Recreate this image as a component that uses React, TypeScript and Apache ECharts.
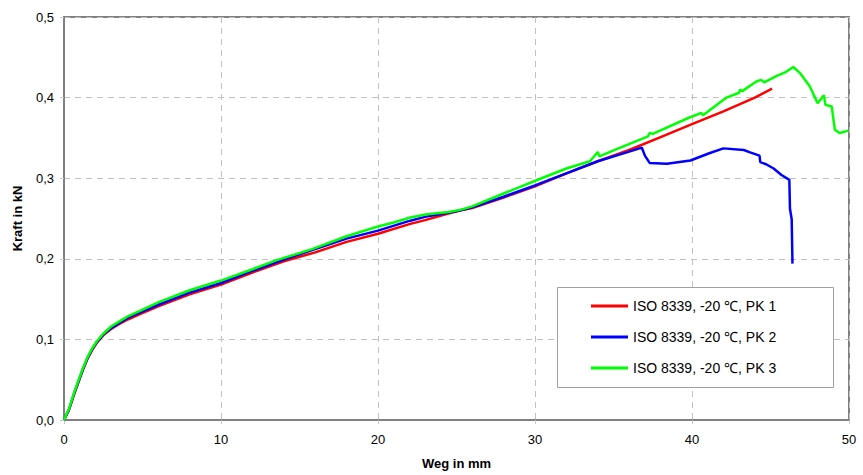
import React, { useEffect, useRef } from "react";
import * as echarts from "echarts";

const seriesNames = ["ISO 8339, -20 ℃, PK 1", "ISO 8339, -20 ℃, PK 2", "ISO 8339, -20 ℃, PK 3"];
const seriesColors = ["#ff0000", "#0000ff", "#00ff00"];

const pk1: [number, number][] = [
  [0, 0], [0.3, 0.012], [0.7, 0.035], [1.2, 0.062], [1.5, 0.076], [1.8, 0.087], [2.1, 0.096],
  [2.5, 0.105], [3.0, 0.113], [3.5, 0.119], [4.1, 0.125], [4.8, 0.131], [6, 0.141], [8, 0.156],
  [10, 0.168], [12, 0.183], [14, 0.197], [16, 0.208], [18, 0.221], [20, 0.231], [22, 0.243],
  [23, 0.248], [25, 0.259], [26, 0.263], [28, 0.276], [30, 0.29], [32, 0.306], [34, 0.321],
  [36, 0.335], [38, 0.351], [40, 0.367], [42, 0.383], [44, 0.4], [45.1, 0.411],
];

const pk2: [number, number][] = [
  [0, 0], [0.3, 0.012], [0.7, 0.036], [1.2, 0.063], [1.5, 0.077], [1.8, 0.088], [2.1, 0.097],
  [2.5, 0.106], [3.0, 0.114], [3.5, 0.12], [4.1, 0.127], [4.8, 0.133], [6, 0.143], [8, 0.158],
  [10, 0.17], [12, 0.185], [14, 0.199], [16, 0.212], [18, 0.225], [20, 0.235], [22, 0.247],
  [23, 0.252], [25, 0.259], [26, 0.264], [28, 0.277], [30, 0.291], [32, 0.306], [34, 0.321],
  [36, 0.333], [36.8, 0.338], [37.0, 0.328], [37.3, 0.319], [38.4, 0.318], [39.9, 0.322],
  [41.1, 0.331], [42.0, 0.337], [43.3, 0.335], [43.7, 0.332], [44.3, 0.328], [44.35, 0.32],
  [44.75, 0.317], [45.2, 0.312], [45.7, 0.304], [46.2, 0.298], [46.24, 0.262], [46.35, 0.249],
  [46.4, 0.194],
];

const pk3: [number, number][] = [
  [0, 0], [0.3, 0.013], [0.7, 0.037], [1.2, 0.064], [1.5, 0.078], [1.8, 0.089], [2.1, 0.098],
  [2.5, 0.107], [3.0, 0.116], [3.5, 0.122], [4.1, 0.129], [4.8, 0.135], [6, 0.146], [8, 0.161],
  [10, 0.173], [12, 0.187], [13.5, 0.198], [15.8, 0.212], [18, 0.228], [20, 0.24], [21, 0.245],
  [22, 0.251], [23, 0.255], [24.5, 0.258], [25.3, 0.261], [26, 0.265], [28, 0.281], [30.3, 0.299],
  [32, 0.312], [33.5, 0.321], [34.0, 0.3325], [34.1, 0.327], [35.2, 0.336], [37.2, 0.352],
  [37.3, 0.356], [37.5, 0.355], [39.8, 0.375], [40.6, 0.381], [40.7, 0.378], [42.2, 0.4],
  [43.0, 0.406], [43.06, 0.41], [43.2, 0.408], [44.1, 0.42], [44.4, 0.422], [44.6, 0.419],
  [45.4, 0.427], [46.0, 0.432], [46.45, 0.438], [46.9, 0.43], [47.5, 0.414], [48.0, 0.393],
  [48.4, 0.403], [48.5, 0.391], [48.9, 0.389], [49.1, 0.36], [49.4, 0.356], [49.96, 0.359],
];

const seriesData = [pk1, pk2, pk3];

const xTicks = { min: 0, max: 50, interval: 10 };
const yTicks = { min: 0, max: 0.5, interval: 0.1 };

export default function App() {
  const ref = useRef<HTMLDivElement>(null);
  useEffect(() => {
    if (!ref.current) return;
    const chart = echarts.init(ref.current, undefined, { renderer: "svg" });
    chart.setOption({
      animation: false,
      backgroundColor: "#ffffff",
      textStyle: { fontFamily: "Liberation Sans, Arial, sans-serif" },
      grid: {
        left: 64, top: 17, right: 14, bottom: 53,
        show: true, borderColor: "#808080", borderWidth: 2, backgroundColor: "transparent",
      },
      xAxis: {
        type: "value", ...xTicks,
        name: "Weg in mm", nameLocation: "middle", nameGap: 37,
        nameTextStyle: { fontWeight: "bold", fontSize: 13, color: "#000" },
        axisLine: { show: true, lineStyle: { color: "#808080", width: 2 } },
        axisTick: { show: true, length: 4, lineStyle: { color: "#c8c8c8" } },
        axisLabel: { color: "#000", fontSize: 13, margin: 13 },
        splitLine: { show: true, lineStyle: { color: "#c0c0c0", type: [6, 5], width: 1 } },
      },
      yAxis: {
        type: "value", ...yTicks,
        name: "Kraft in kN", nameLocation: "middle", nameGap: 40,
        nameTextStyle: { fontWeight: "bold", fontSize: 13, color: "#000" },
        axisLine: { show: true, lineStyle: { color: "#808080", width: 2 } },
        axisTick: { show: true, length: 4, lineStyle: { color: "#c8c8c8" } },
        axisLabel: {
          color: "#000", fontSize: 13, margin: 10,
          formatter: (v: number) => v.toFixed(1).replace(".", ","),
        },
        splitLine: { show: true, lineStyle: { color: "#c0c0c0", type: [6, 5], width: 1 } },
      },
      legend: {
        orient: "vertical", left: 586, top: 294, z: 20,
        icon: "rect", itemWidth: 37, itemHeight: 3, itemGap: 17,
        textStyle: { fontSize: 14, color: "#000", fontFamily: "Liberation Sans, Arial, sans-serif" },
        data: seriesNames,
      },
      graphic: [
        {
          type: "rect", z: 10, shape: { x: 557.5, y: 287.5, width: 276, height: 100 },
          style: { fill: "#ffffff", stroke: "#a0a0a0", lineWidth: 1 },
        },
      ],
      series: seriesData.map((d, i) => ({
        name: seriesNames[i],
        type: "line",
        data: d,
        symbol: "none",
        smooth: false,
        color: seriesColors[i],
        lineStyle: { color: seriesColors[i], width: 2.5 },
        z: 2 + i,
      })),
    });
    return () => chart.dispose();
  }, []);
  return <div ref={ref} style={{ position: "fixed", left: 0, top: 0, width: 863, height: 475 }} />;
}
